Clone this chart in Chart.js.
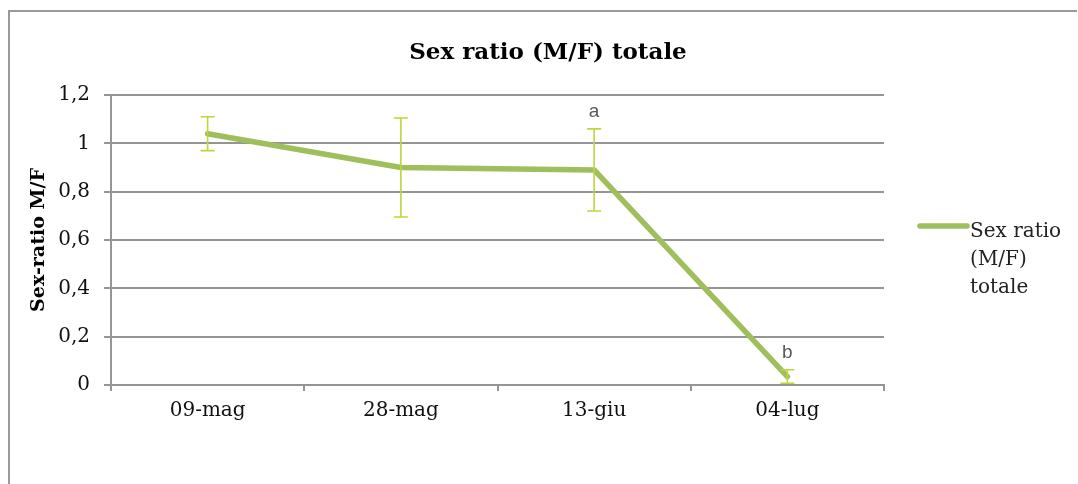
<!DOCTYPE html>
<html>
<head>
<meta charset="utf-8">
<script src="https://cdn.jsdelivr.net/npm/chart.js@4.4.1/dist/chart.umd.min.js"></script>
<style>
  html, body { margin: 0; padding: 0; background: #ffffff; }
  #wrap { width: 1078px; height: 484px; position: relative; }
</style>
</head>
<body>
<div id="wrap"><canvas id="c" width="1078" height="484"></canvas></div>
<script>
const chartTitle = 'Sex ratio (M/F) totale';
const yAxisTitle = 'Sex-ratio M/F';
const seriesName = ['Sex ratio', '(M/F)', 'totale'];
const categories = ['09-mag', '28-mag', '13-giu', '04-lug'];
const sexRatio = [1.04, 0.90, 0.89, 0.035];
const errorValues = [0.07, 0.205, 0.17, 0.028];
const letterLabels = ['', '', 'a', 'b'];
const yTickLabels = ['0', '0,2', '0,4', '0,6', '0,8', '1', '1,2'];

const LINE_COLOR = '#9fbe5c';
const ERR_COLOR = '#bcd63c';
const GRID_COLOR = '#959595';
const SERIF = '"DejaVu Serif", "Liberation Serif", serif';

const framePlugin = {
  id: 'frame',
  beforeDraw(chart) {
    const ctx = chart.ctx;
    ctx.save();
    ctx.fillStyle = '#ffffff';
    ctx.fillRect(0, 0, chart.width, chart.height);
    ctx.strokeStyle = '#9a9a9a';
    ctx.lineWidth = 2;
    ctx.beginPath();
    ctx.moveTo(9, chart.height + 2);
    ctx.lineTo(9, 11);
    ctx.lineTo(1077, 11);
    ctx.stroke();
    ctx.restore();
  },
  afterDraw(chart) {
    const ctx = chart.ctx;
    ctx.save();
    // title
    ctx.fillStyle = '#000000';
    ctx.font = 'bold 23px ' + SERIF;
    ctx.textAlign = 'center';
    ctx.textBaseline = 'middle';
    ctx.fillText(chartTitle, 548, 53);
    // legend
    ctx.strokeStyle = LINE_COLOR;
    ctx.lineWidth = 5.5;
    ctx.lineCap = 'round';
    ctx.beginPath();
    ctx.moveTo(920, 226);
    ctx.lineTo(967, 226);
    ctx.stroke();
    ctx.fillStyle = '#222222';
    ctx.font = '20px ' + SERIF;
    ctx.textAlign = 'left';
    ctx.textBaseline = 'alphabetic';
    seriesName.forEach((t, i) => ctx.fillText(t, 970, 237 + i * 28));
    ctx.restore();
  }
};

const errorBarPlugin = {
  id: 'errorBars',
  afterDatasetsDraw(chart) {
    const ctx = chart.ctx;
    const meta = chart.getDatasetMeta(0);
    const y = chart.scales.y;
    ctx.save();
    ctx.strokeStyle = ERR_COLOR;
    ctx.lineWidth = 1.6;
    meta.data.forEach((pt, i) => {
      const x = pt.x;
      const top = y.getPixelForValue(sexRatio[i] + errorValues[i]);
      const bot = y.getPixelForValue(Math.max(0, sexRatio[i] - errorValues[i]));
      ctx.beginPath();
      ctx.moveTo(x, top); ctx.lineTo(x, bot);
      ctx.moveTo(x - 7, top); ctx.lineTo(x + 7, top);
      ctx.moveTo(x - 7, bot); ctx.lineTo(x + 7, bot);
      ctx.stroke();
      if (letterLabels[i]) {
        ctx.fillStyle = '#595959';
        ctx.font = '19px "Liberation Sans", "Open Sans", sans-serif';
        ctx.textAlign = 'center';
        ctx.textBaseline = 'alphabetic';
        ctx.fillText(letterLabels[i], x, top - 12);
      }
    });
    ctx.restore();
  }
};

new Chart(document.getElementById('c'), {
  type: 'line',
  data: {
    labels: categories,
    datasets: [{
      label: seriesName.join(' '),
      data: sexRatio,
      borderColor: LINE_COLOR,
      backgroundColor: LINE_COLOR,
      borderWidth: 5.5,
      pointRadius: 0,
      pointHoverRadius: 0,
      tension: 0,
      borderCapStyle: 'round',
      borderJoinStyle: 'round',
      fill: false
    }]
  },
  options: {
    responsive: false,
    animation: false,
    events: [],
    layout: { padding: { left: 24, right: 194, top: 95, bottom: 0 } },
    plugins: {
      legend: { display: false },
      title: { display: false },
      tooltip: { enabled: false }
    },
    scales: {
      x: {
        type: 'category',
        offset: true,
        grid: {
          offset: true,
          drawOnChartArea: false,
          drawTicks: true,
          tickLength: 6,
          color: GRID_COLOR,
          lineWidth: 2
        },
        border: { display: true, color: GRID_COLOR, width: 2 },
        ticks: {
          color: '#111111',
          font: { family: SERIF, size: 20 },
          padding: 8,
          maxRotation: 0
        },
        afterFit(scale) { scale.height = 99; }
      },
      y: {
        min: 0,
        max: 1.2,
        ticks: {
          stepSize: 0.2,
          color: '#111111',
          font: { family: SERIF, size: 20 },
          padding: 14,
          callback: (v, i) => yTickLabels[i]
        },
        grid: {
          color: GRID_COLOR,
          lineWidth: 2,
          tickLength: 7,
          drawTicks: true
        },
        border: { display: true, color: GRID_COLOR, width: 2 },
        title: {
          display: true,
          text: yAxisTitle,
          color: '#000000',
          font: { family: SERIF, size: 19, weight: 'bold' },
          padding: { top: 4, bottom: 4 }
        },
        afterFit(scale) { scale.width = 87; }
      }
    }
  },
  plugins: [framePlugin, errorBarPlugin]
});
</script>
</body>
</html>
